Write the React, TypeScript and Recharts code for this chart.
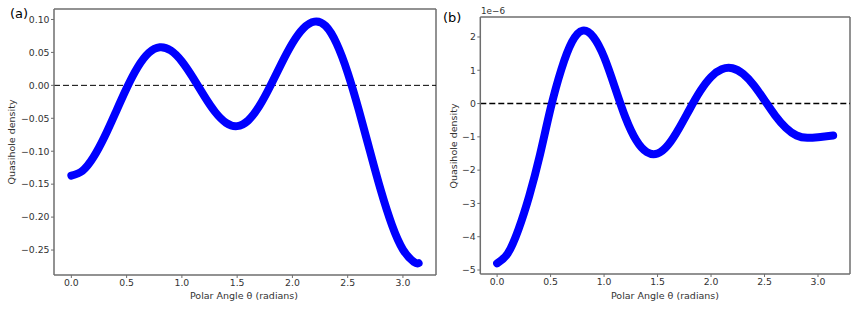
import React from "react";
import { LineChart, Line, XAxis, YAxis, ReferenceLine } from "recharts";

// Polar angle samples (radians)
const thetaA = [0, 0.1, 0.2, 0.3, 0.4, 0.5, 0.6, 0.7, 0.8, 0.9, 1.0, 1.1, 1.2, 1.3, 1.4, 1.5, 1.6, 1.7, 1.8, 1.9, 2.0, 2.1, 2.2, 2.3, 2.4, 2.5, 2.6, 2.7, 2.8, 2.9, 3.0, 3.1, 3.1416];
// Panel (a) quasihole density
const densityA = [-0.137, -0.1298, -0.1091, -0.0781, -0.0414, -0.0044, 0.0275, 0.0493, 0.0579, 0.0529, 0.0363, 0.0117, -0.0157, -0.0403, -0.0569, -0.0619, -0.0533, -0.0317, -0.0011, 0.0328, 0.0639, 0.0866, 0.0967, 0.0902, 0.0634, 0.0193, -0.037, -0.099, -0.1596, -0.2119, -0.2492, -0.2683, -0.270];

const thetaB = [0, 0.1, 0.2, 0.3, 0.4, 0.5, 0.6, 0.7, 0.8, 0.9, 1.0, 1.1, 1.2, 1.3, 1.4, 1.5, 1.6, 1.7, 1.8, 1.9, 2.0, 2.1, 2.2, 2.3, 2.4, 2.5, 2.6, 2.7, 2.8, 2.9, 3.0, 3.1, 3.1416];
// Panel (b) quasihole density (real values, shown in units of 1e-6)
const densityB = [-4.80e-6, -4.50e-6, -3.78e-6, -2.78e-6, -1.55e-6, -0.15e-6, 1.02e-6, 1.85e-6, 2.19e-6, 2.00e-6, 1.40e-6, 0.50e-6, -0.42e-6, -1.10e-6, -1.46e-6, -1.50e-6, -1.24e-6, -0.75e-6, -0.17e-6, 0.38e-6, 0.80e-6, 1.03e-6, 1.06e-6, 0.89e-6, 0.55e-6, 0.10e-6, -0.36e-6, -0.73e-6, -0.96e-6, -1.03e-6, -1.01e-6, -0.975e-6, -0.96e-6];

const xTicks = [0, 0.5, 1.0, 1.5, 2.0, 2.5, 3.0];
const yTicksA = [-0.25, -0.2, -0.15, -0.1, -0.05, 0, 0.05, 0.1];
const yTicksB = [-5e-6, -4e-6, -3e-6, -2e-6, -1e-6, 0, 1e-6, 2e-6];

const xLabel = "Polar Angle θ (radians)";
const yLabel = "Quasihole density";

const dataA = thetaA.map((t, i) => ({ t, v: densityA[i] }));
const dataB = thetaB.map((t, i) => ({ t, v: densityB[i] }));

const FONT = "DejaVu Sans";
const SPINE = "#6e6e6e";
const TXT = "#333333";

const minus = (s: string) => s.replace("-", "\u2212");
const fmtX = (v: number) => v.toFixed(1);
const fmtA = (v: number) => minus(v.toFixed(2));
const fmtB = (v: number) => minus(String(Math.round(v * 1e6)));

const tickStyle = { fontSize: 9.3, fill: TXT, fontFamily: FONT };
const X_DOMAIN: [number, number] = [-0.157, 3.299];

function Panel(props: {
  data: { t: number; v: number }[];
  yDomain: [number, number];
  yTicks: number[];
  fmtY: (v: number) => string;
  width: number;
  yAxisWidth: number;
  top: number;
  right: number;
  bottom: number;
  dashWidth: number;
}) {
  return (
    <LineChart
      width={props.width}
      height={311}
      data={props.data}
      margin={{ top: props.top, right: props.right, bottom: props.bottom, left: 0 }}
    >
      <XAxis
        dataKey="t"
        type="number"
        domain={X_DOMAIN}
        ticks={xTicks}
        tickFormatter={fmtX}
        allowDataOverflow
        height={30}
        tickSize={3}
        tickMargin={1}
        tick={tickStyle}
        axisLine={{ stroke: SPINE, strokeWidth: 1.5 }}
        tickLine={{ stroke: SPINE, strokeWidth: 1 }}
      />
      <YAxis
        type="number"
        domain={props.yDomain}
        ticks={props.yTicks}
        tickFormatter={props.fmtY}
        allowDataOverflow
        width={props.yAxisWidth}
        tickSize={3}
        tickMargin={1.5}
        tick={tickStyle}
        interval={0}
        axisLine={{ stroke: SPINE, strokeWidth: 1.5 }}
        tickLine={{ stroke: SPINE, strokeWidth: 1 }}
      />
      {/* top and right frame lines */}
      <ReferenceLine y={props.yDomain[1]} stroke={SPINE} strokeWidth={1.5} />
      <ReferenceLine x={X_DOMAIN[1]} stroke={SPINE} strokeWidth={1.5} />
      <ReferenceLine y={0} stroke="#000000" strokeWidth={props.dashWidth} strokeDasharray="6 3" />
      <Line
        type="natural"
        dataKey="v"
        stroke="#0000ff"
        strokeWidth={8}
        strokeLinecap="round"
        strokeLinejoin="round"
        dot={false}
        activeDot={false}
        isAnimationActive={false}
      />
    </LineChart>
  );
}

export default function App() {
  return (
    <div style={{ position: "absolute", left: 0, top: 0, width: 864, height: 311, background: "#fff", overflow: "hidden" }}>
      <div style={{ position: "absolute", left: 0, top: 0 }}>
        <Panel
          data={dataA}
          yDomain={[-0.2879, 0.1159]}
          yTicks={yTicksA}
          fmtY={fmtA}
          width={440}
          yAxisWidth={54}
          top={9}
          right={4}
          bottom={6}
          dashWidth={1}
        />
      </div>
      <div style={{ position: "absolute", left: 440, top: 0 }}>
        <Panel
          data={dataB}
          yDomain={[-5.12e-6, 2.6e-6]}
          yTicks={yTicksB}
          fmtY={fmtB}
          width={424}
          yAxisWidth={40.3}
          top={17}
          right={14}
          bottom={7}
          dashWidth={1.6}
        />
      </div>
      <svg width={864} height={311} style={{ position: "absolute", left: 0, top: 0, pointerEvents: "none" }}>
        <g fontFamily={FONT} fill={TXT}>
          <text x={10} y={18} fontSize={13} fill="#000">(a)</text>
          <text x={443} y={22} fontSize={13} fill="#000">(b)</text>
          <text x={481} y={13.5} fontSize={8.8}>1e{"\u2212"}6</text>
          <text x={244} y={299} fontSize={9.5} textAnchor="middle">{xLabel}</text>
          <text x={665} y={299} fontSize={9.5} textAnchor="middle">{xLabel}</text>
          <text x={15} y={142} fontSize={9.5} textAnchor="middle" transform="rotate(-90 15 142)">{yLabel}</text>
          <text x={457} y={146} fontSize={9.5} textAnchor="middle" transform="rotate(-90 457 146)">{yLabel}</text>
        </g>
      </svg>
    </div>
  );
}
